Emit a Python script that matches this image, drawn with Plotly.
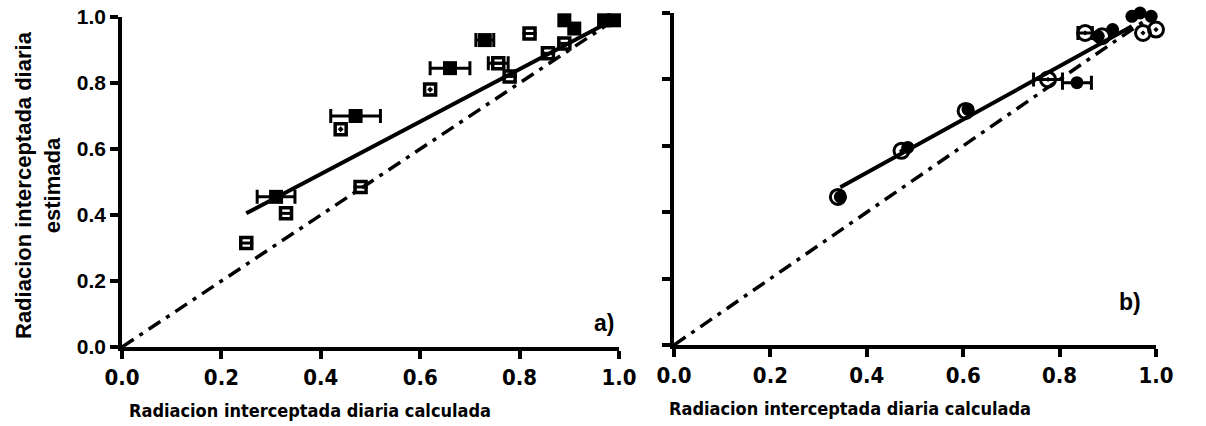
import plotly.graph_objects as go
import numpy as np

# ---------------- data ----------------
# Panel a) filled squares (with horizontal error bars)
a_fill_x = [0.31, 0.47, 0.66, 0.73, 0.89, 0.91, 0.97, 0.99]
a_fill_y = [0.455, 0.70, 0.845, 0.93, 0.99, 0.965, 0.99, 0.99]
a_fill_ex = [0.038, 0.05, 0.04, 0.018, 0.0, 0.0, 0.0, 0.0]
# Panel a) open squares with dot
a_dot_x = [0.44, 0.62]
a_dot_y = [0.66, 0.78]
# Panel a) open squares with bar
a_bar_x = [0.25, 0.33, 0.48, 0.757, 0.78, 0.82, 0.857, 0.89]
a_bar_y = [0.315, 0.405, 0.485, 0.86, 0.82, 0.95, 0.89, 0.92]
a_bar_ex = [0.0, 0.0, 0.0, 0.02, 0.0, 0.0, 0.0, 0.0]
# Panel a) regression line
a_fit_x = [0.25, 0.98]
a_fit_y = [0.405, 0.985]

# Panel b) filled circles
b_fill_x = [0.345, 0.485, 0.61, 0.836, 0.88, 0.91, 0.95, 0.967, 0.99]
b_fill_y = [0.446, 0.595, 0.71, 0.79, 0.93, 0.95, 0.99, 1.0, 0.99]
b_fill_ex = [0.0, 0.0, 0.0, 0.03, 0.0, 0.0, 0.0, 0.0, 0.0]
# Panel b) open circles
b_open_x = [0.34, 0.472, 0.605, 0.776, 0.853, 0.888, 0.973, 1.0]
b_open_y = [0.446, 0.585, 0.705, 0.80, 0.94, 0.93, 0.94, 0.95]
b_open_ex = [0.0, 0.0, 0.0, 0.03, 0.015, 0.0, 0.0, 0.0]
# Panel b) regression line
b_fit_x = [0.345, 0.95]
b_fit_y = [0.475, 0.96]

# 1:1 line
id_x = [0.0, 1.0]
id_y = [0.0, 1.0]

tick_vals = [0.0, 0.2, 0.4, 0.6, 0.8, 1.0]
tick_text = ["0.0", "0.2", "0.4", "0.6", "0.8", "1.0"]

xtitle = "Radiacion interceptada diaria calculada"
ytitle = "Radiacion interceptada diaria<br>estimada"

# ---------------- figure ----------------
W, H = 1206, 426
fig = go.Figure()
BLK = "black"
NARROW = "DejaVu Sans Condensed, Liberation Sans Narrow, Arial Narrow, Liberation Sans, Arial"
ARIAL = "Liberation Sans, Arial"


def err_trace(x, y, ex, xa, ya):
    x = np.array(x); y = np.array(y); ex = np.array(ex)
    m = ex > 0
    return go.Scatter(x=x[m], y=y[m], mode="markers", marker=dict(size=1, color="rgba(0,0,0,0)"),
                      error_x=dict(type="data", array=ex[m], visible=True, color=BLK, thickness=3, width=7),
                      xaxis=xa, yaxis=ya, cliponaxis=False, showlegend=False, hoverinfo="skip")


line_common = dict(mode="lines", showlegend=False, hoverinfo="skip", cliponaxis=False)
DASH = "14px,7px,4px,7px"

# ---- panel a ----
fig.add_trace(go.Scatter(x=id_x, y=id_y, line=dict(color=BLK, width=3.5, dash=DASH),
                         xaxis="x", yaxis="y", **line_common))
fig.add_trace(go.Scatter(x=a_fit_x, y=a_fit_y, line=dict(color=BLK, width=4),
                         xaxis="x", yaxis="y", **line_common))
fig.add_trace(err_trace(a_fill_x, a_fill_y, a_fill_ex, "x", "y"))
fig.add_trace(err_trace(a_bar_x, a_bar_y, a_bar_ex, "x", "y"))
fig.add_trace(go.Scatter(x=a_bar_x, y=a_bar_y, mode="markers", xaxis="x", yaxis="y", cliponaxis=False,
                         marker=dict(symbol="square-open", size=11, color=BLK, line=dict(width=3.5, color=BLK)),
                         showlegend=False))
fig.add_trace(go.Scatter(x=a_bar_x, y=a_bar_y, mode="markers", xaxis="x", yaxis="y", cliponaxis=False,
                         marker=dict(symbol="line-ew", size=10, color=BLK, line=dict(width=3, color=BLK)),
                         showlegend=False))
fig.add_trace(go.Scatter(x=a_dot_x, y=a_dot_y, mode="markers", xaxis="x", yaxis="y", cliponaxis=False,
                         marker=dict(symbol="square-open-dot", size=11, color=BLK, line=dict(width=3.5, color=BLK)),
                         showlegend=False))
fig.add_trace(go.Scatter(x=a_fill_x, y=a_fill_y, mode="markers", xaxis="x", yaxis="y", cliponaxis=False,
                         marker=dict(symbol="square", size=14, color=BLK, line=dict(width=0)),
                         showlegend=False))

# ---- panel b ----
fig.add_trace(go.Scatter(x=id_x, y=id_y, line=dict(color=BLK, width=3.5, dash=DASH),
                         xaxis="x2", yaxis="y2", **line_common))
fig.add_trace(go.Scatter(x=b_fit_x, y=b_fit_y, line=dict(color=BLK, width=4),
                         xaxis="x2", yaxis="y2", **line_common))
fig.add_trace(err_trace(b_fill_x, b_fill_y, b_fill_ex, "x2", "y2"))
fig.add_trace(err_trace(b_open_x, b_open_y, b_open_ex, "x2", "y2"))
fig.add_trace(go.Scatter(x=b_fill_x, y=b_fill_y, mode="markers", xaxis="x2", yaxis="y2", cliponaxis=False,
                         marker=dict(symbol="circle", size=13, color=BLK, line=dict(width=0)),
                         showlegend=False))
fig.add_trace(go.Scatter(x=b_open_x, y=b_open_y, mode="markers", xaxis="x2", yaxis="y2", cliponaxis=False,
                         marker=dict(symbol="circle-open-dot", size=15, color=BLK, line=dict(width=3, color=BLK)),
                         showlegend=False))

axis_common = dict(range=[0, 1], showgrid=False, zeroline=False, showline=True, linewidth=3.5,
                   linecolor=BLK, ticks="outside", ticklen=8, tickwidth=3.5, tickcolor=BLK,
                   tickvals=tick_vals, ticktext=tick_text, fixedrange=True, automargin=False)
xfont = dict(family=NARROW, size=22, color=BLK, weight="bold")
yfont = dict(family=ARIAL, size=21, color=BLK, weight="bold")
xtfont = dict(family=NARROW, size=18, color=BLK, weight="bold")

fig.update_layout(
    width=W, height=H, margin=dict(l=0, r=0, t=0, b=0, autoexpand=False),
    paper_bgcolor="white", plot_bgcolor="white", showlegend=False,
    xaxis=dict(domain=[122 / W, 619 / W], anchor="y", tickfont=xfont, **axis_common),
    yaxis=dict(domain=[(H - 347) / H, (H - 17) / H], anchor="x", tickfont=yfont, **axis_common),
    xaxis2=dict(domain=[674 / W, 1156 / W], anchor="y2", tickfont=xfont, **axis_common),
    yaxis2=dict(domain=[(H - 345) / H, (H - 13) / H], anchor="x2", showticklabels=False, **axis_common),
    annotations=[
        dict(text=xtitle, x=310 / W, y=(H - 410) / H, xref="paper", yref="paper", showarrow=False,
             font=xtfont, xanchor="center", yanchor="middle"),
        dict(text=xtitle, x=850 / W, y=(H - 408) / H, xref="paper", yref="paper", showarrow=False,
             font=xtfont, xanchor="center", yanchor="middle"),
        dict(text=ytitle, x=38 / W, y=(H - 185) / H, xref="paper", yref="paper", showarrow=False,
             textangle=-90, font=dict(family=ARIAL, size=22, color=BLK, weight="bold"),
             xanchor="center", yanchor="middle"),
        dict(text="a)", x=0.97, y=0.073, xref="x", yref="y", showarrow=False,
             font=dict(family=ARIAL, size=23, color=BLK, weight="bold")),
        dict(text="b)", x=0.946, y=0.13, xref="x2", yref="y2", showarrow=False,
             font=dict(family=ARIAL, size=23, color=BLK, weight="bold")),
    ],
)

fig.write_html("out.html")
